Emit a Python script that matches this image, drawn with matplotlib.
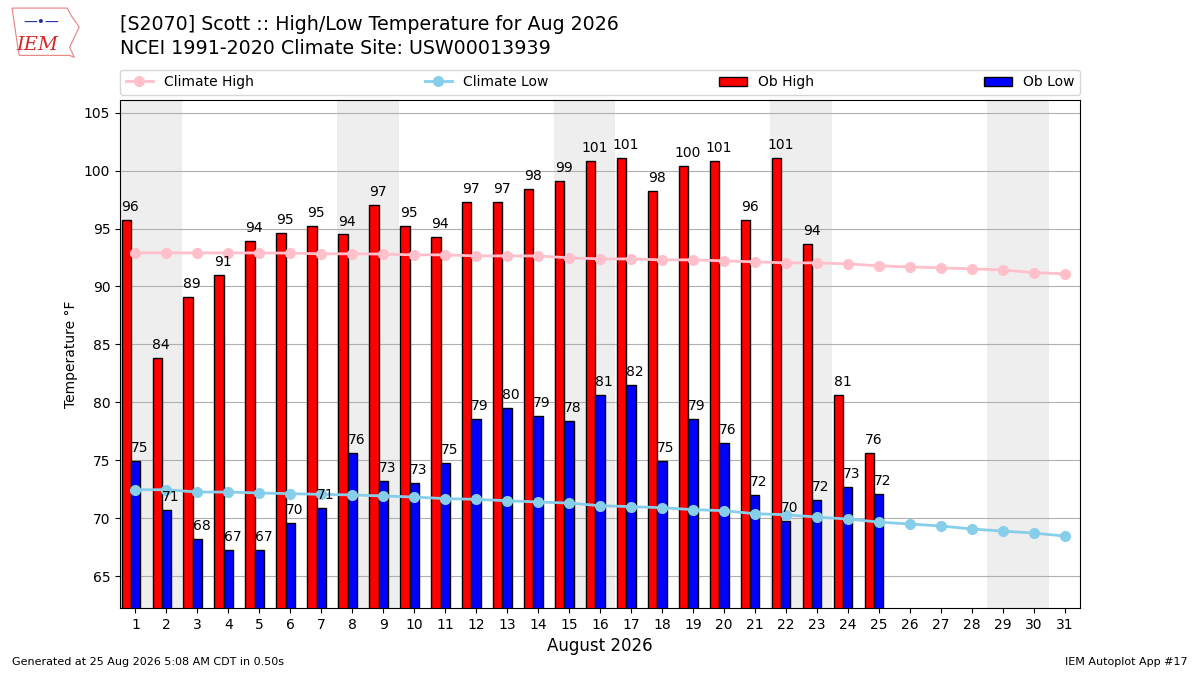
import numpy as np
import matplotlib
matplotlib.use('Agg')
import matplotlib.pyplot as plt
from matplotlib.patches import Polygon

# observed daily high/low (F), August 2026, through the 25th
days = np.arange(1, 32)
ob_days = np.arange(1, 26)
ob_high = [95.75, 83.83, 89.10, 91.0, 93.94, 94.63, 95.24, 94.5, 97.05, 95.24,
           94.31, 97.31, 97.31, 98.43, 99.15, 100.85, 101.11, 98.26, 100.42,
           100.85, 95.75, 101.11, 93.68, 80.63, 75.62]
ob_low = [74.96, 70.70, 68.19, 67.24, 67.24, 69.57, 70.87, 75.62, 73.20, 73.03,
          74.76, 78.56, 79.51, 78.82, 78.39, 80.63, 81.5, 74.96, 78.56, 76.49,
          71.99, 69.75, 71.56, 72.68, 72.08]
# NCEI 1991-2020 climatology
clim_high = [92.90, 92.90, 92.90, 92.90, 92.90, 92.88, 92.82, 92.82, 92.80,
             92.73, 92.73, 92.64, 92.64, 92.64, 92.47, 92.38, 92.38, 92.30,
             92.30, 92.21, 92.13, 92.04, 92.04, 91.95, 91.78, 91.69, 91.61,
             91.52, 91.43, 91.20, 91.09]
clim_low = [72.45, 72.45, 72.25, 72.25, 72.17, 72.11, 72.05, 72.00, 71.91,
            71.82, 71.68, 71.62, 71.50, 71.39, 71.30, 71.07, 70.99, 70.90,
            70.73, 70.64, 70.38, 70.29, 70.09, 69.92, 69.66, 69.49, 69.32,
            69.06, 68.88, 68.71, 68.45]
weekends = [1, 8, 15, 22, 29]  # first day (Saturday) of each weekend

fig = plt.figure(figsize=(12, 6.75), dpi=100)
ax = fig.add_axes([0.1, 0.0993, 0.8, 0.7527])

for sat in weekends:
    ax.axvspan(sat - 0.5, sat + 1.5, color='#EEEEEE', zorder=0, lw=0)

ax.bar(ob_days - 0.3, ob_high, width=0.3, fc='r', ec='k', lw=1,
       label='Ob High', zorder=2)
ax.bar(ob_days, ob_low, width=0.3, fc='b', ec='k', lw=1,
       label='Ob Low', zorder=2)
ax.plot(days, clim_high, color='pink', marker='o', ms=7, lw=2,
        label='Climate High', zorder=3)
ax.plot(days, clim_low, color='skyblue', marker='o', ms=7, lw=2,
        label='Climate Low', zorder=3)

for d, hi, lo in zip(ob_days, ob_high, ob_low):
    ax.text(d - 0.17, hi + 0.5, f'{hi:.0f}', ha='center', va='bottom',
            fontsize=10, zorder=4)
    ax.text(d + 0.13, lo + 0.5, f'{lo:.0f}', ha='center', va='bottom',
            fontsize=10, zorder=4)

ax.set_xlim(0.5, 31.5)
ax.set_ylim(min(ob_low) - 5, max(ob_high) + 5)
ax.set_xticks(days)
ax.set_yticks(np.arange(65, 106, 5))
ax.tick_params(labelsize=10)
ax.yaxis.grid(True, color='#b0b0b0', zorder=1)
ax.set_axisbelow(True)
ax.set_xlabel('August 2026', fontsize=12)
ax.set_ylabel('Temperature °F', fontsize=10)

handles, labels = ax.get_legend_handles_labels()
order = [labels.index(k) for k in ['Climate High', 'Climate Low', 'Ob High', 'Ob Low']]
ax.legend([handles[i] for i in order], [labels[i] for i in order],
          loc='lower left', bbox_to_anchor=(0, 1.01, 1, 0.05), mode='expand',
          ncol=4, fontsize=10, borderaxespad=0)

fig.text(0.1, 0.964, '[S2070] Scott :: High/Low Temperature for Aug 2026',
         fontsize=13.7, va='center')
fig.text(0.1, 0.928, 'NCEI 1991-2020 Climate Site: USW00013939',
         fontsize=13.7, va='center')

# rough stand-in for the IEM logo (state outline + text)
outline = Polygon([(0.010, 0.988), (0.056, 0.988), (0.060, 0.975),
                   (0.066, 0.960), (0.062, 0.945), (0.058, 0.930),
                   (0.062, 0.915), (0.058, 0.918), (0.052, 0.918),
                   (0.016, 0.918), (0.014, 0.940), (0.012, 0.965)],
                  closed=True, fill=False, ec='#e88080', lw=0.8,
                  transform=fig.transFigure)
fig.patches.append(outline)
fig.text(0.031, 0.934, 'IEM', fontsize=14, color='#d62728', style='italic',
         family='serif', ha='center', va='center')
fig.text(0.034, 0.968, '\u2014\u2022\u2014', fontsize=10, color='#1f2fa0',
         ha='center', va='center')

fig.text(0.01, 0.015, 'Generated at 25 Aug 2026 5:08 AM CDT in 0.50s',
         fontsize=8)
fig.text(0.99, 0.015, 'IEM Autoplot App #17', fontsize=8, ha='right')

fig.savefig('out.png')
